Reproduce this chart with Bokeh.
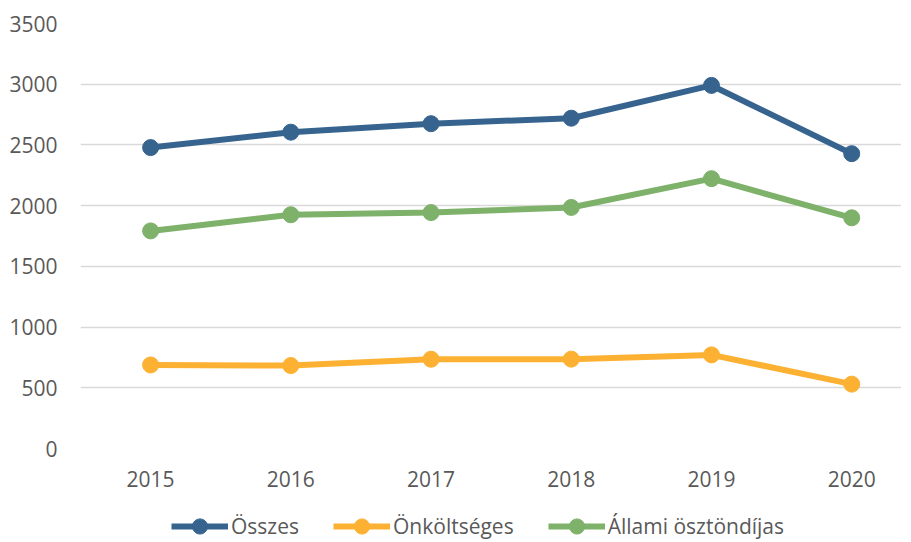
from bokeh.plotting import figure
from bokeh.layouts import column
from bokeh.models import Range1d, FixedTicker, Legend, LegendItem
from bokeh.embed import file_html
from bokeh.resources import INLINE

years = [2015, 2016, 2017, 2018, 2019, 2020]
osszes = [2478, 2605, 2675, 2720, 2990, 2428]
onkoltseges = [688, 683, 735, 736, 771, 530]
allami = [1792, 1925, 1943, 1985, 2222, 1900]
y_ticks = [0, 500, 1000, 1500, 2000, 2500, 3000, 3500]

series = [
    ("Összes", osszes, "#37648F"),
    ("Önköltséges", onkoltseges, "#FDB132"),
    ("Állami ösztöndíjas", allami, "#7EB16A"),
]

FONT = "Open Sans"
TXT = "#595959"

p = figure(width=901, height=510, output_backend="svg", toolbar_location=None,
           x_range=Range1d(2014.5, 2020.355), y_range=Range1d(0, 3500))
p.min_border_left = 80
p.min_border_right = 0
p.min_border_top = 23
p.min_border_bottom = 62
p.outline_line_color = None
p.background_fill_color = "white"
p.border_fill_color = "white"

p.xgrid.grid_line_color = None
p.ygrid.grid_line_color = "#D9D9D9"
p.ygrid.grid_line_width = 1.5
p.yaxis.ticker = FixedTicker(ticks=y_ticks)
p.xaxis.ticker = FixedTicker(ticks=years)
for ax in (p.xaxis, p.yaxis):
    ax.axis_line_color = None
    ax.major_tick_line_color = None
    ax.minor_tick_line_color = None
    ax.major_label_text_font = FONT
    ax.major_label_text_font_size = "21px"
    ax.major_label_text_color = TXT
p.yaxis.major_label_standoff = 17
p.xaxis.major_label_standoff = 16

for name, vals, col in series:
    p.line(years, vals, line_color=col, line_width=6)
    p.scatter(years, vals, size=16, fill_color=col, line_color=col)

# legend strip below the chart (its own ranges keep the data out of view)
lg = figure(width=901, height=31, output_backend="svg", toolbar_location=None,
            x_range=Range1d(0, 1), y_range=Range1d(0, 1),
            x_axis_type=None, y_axis_type=None)
lg.min_border_left = 80
lg.min_border_right = 0
lg.min_border_top = 0
lg.min_border_bottom = 0
lg.outline_line_color = None
lg.background_fill_color = "white"
lg.border_fill_color = "white"

items = []
for name, vals, col in series:
    l = lg.line(years, vals, line_color=col, line_width=6)
    s = lg.scatter(years, vals, size=16, fill_color=col, line_color=col)
    items.append(LegendItem(label=name, renderers=[l, s]))

legend = Legend(items=items, orientation="horizontal", location=(91, -4),
                glyph_width=57, glyph_height=38, label_standoff=3, spacing=34,
                padding=0, margin=0, border_line_color=None,
                background_fill_alpha=0, label_text_font=FONT,
                label_text_font_size="21px", label_text_color=TXT)
lg.add_layout(legend)

layout = column(p, lg, spacing=0)
open("out.html", "w").write(file_html(layout, INLINE))
